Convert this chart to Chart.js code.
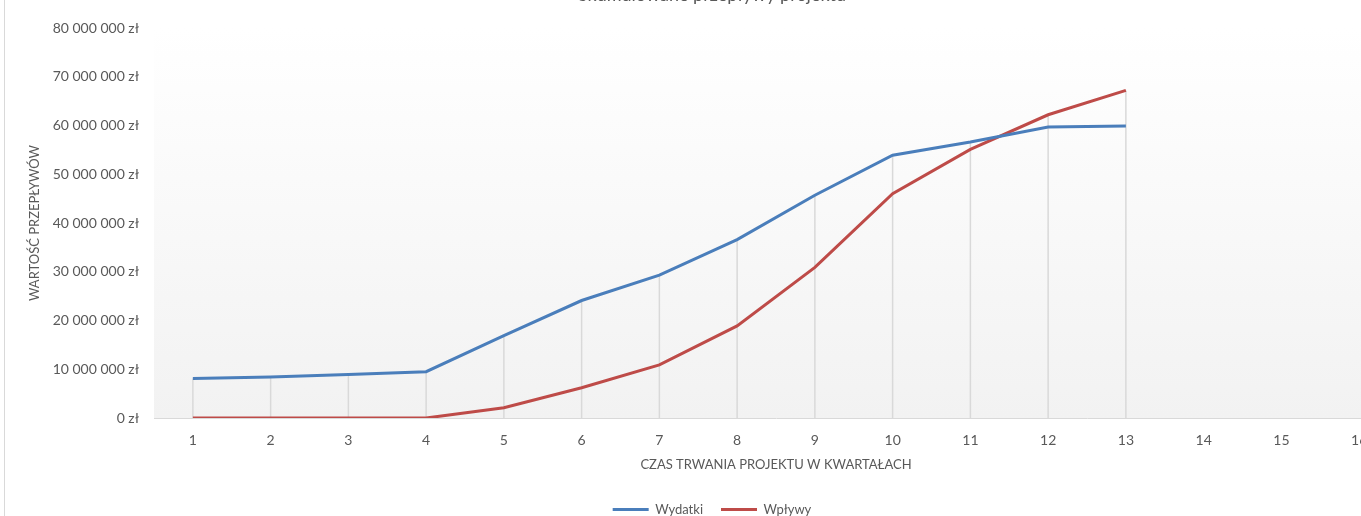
<!DOCTYPE html>
<html lang="pl">
<head>
<meta charset="utf-8">
<script src="https://cdn.jsdelivr.net/npm/chart.js@4.4.1/dist/chart.umd.min.js"></script>
<style>
  html, body { margin: 0; padding: 0; background: #fff; overflow: hidden; }
  body { width: 1361px; height: 516px; position: relative; }
  #wrap { position: absolute; left: 0; top: -20px; width: 1424px; height: 546px; }
  #frame { position: absolute; left: 4px; top: 0; width: 1px; height: 516px; background: #d9d9d9; }
</style>
</head>
<body>
<div id="wrap"><canvas id="chart" width="1424" height="546"></canvas></div>
<div id="frame"></div>
<script>
// ===============================
// DATA
// ===============================

const quarters = ["1", "2", "3", "4", "5", "6", "7", "8", "9", "10", "11", "12", "13", "14", "15", "16"];

const wydatki = [8100000, 8400000, 8900000, 9500000, 16900000, 24100000, 29300000,
                 36600000, 45700000, 53900000, 56600000, 59700000, 59900000];

const wplywy = [0, 0, 0, 0, 2100000, 6200000, 10900000,
                18900000, 30900000, 46000000, 55100000, 62200000, 67200000];

const yMin = 0;
const yMax = 80000000;
const yStep = 10000000;

const TEXT = "#595959";
const FONT = "Lato, 'Open Sans', sans-serif";

function formatZl(value) {
  const s = String(Math.round(value)).replace(/\B(?=(\d{3})+(?!\d))/g, " ");
  return s + " zł";
}

// plot area background (white -> light grey)
const plotBackground = {
  id: "plotBackground",
  beforeDraw(chart) {
    const { ctx, chartArea: a } = chart;
    const g = ctx.createLinearGradient(0, a.top, 0, a.bottom);
    g.addColorStop(0, "#ffffff");
    g.addColorStop(1, "#f2f2f2");
    ctx.save();
    ctx.fillStyle = g;
    ctx.fillRect(a.left, a.top, a.right - a.left, a.bottom - a.top);
    ctx.restore();
  }
};

// vertical drop lines from the higher series down to the axis
const dropLines = {
  id: "dropLines",
  beforeDatasetsDraw(chart) {
    const { ctx, scales: { x, y } } = chart;
    ctx.save();
    ctx.strokeStyle = "#d9d9d9";
    ctx.lineWidth = 1.5;
    for (let i = 0; i < wydatki.length; i++) {
      const top = Math.max(wydatki[i], wplywy[i]);
      const px = x.getPixelForValue(i);
      ctx.beginPath();
      ctx.moveTo(px, y.getPixelForValue(top));
      ctx.lineTo(px, y.getPixelForValue(0));
      ctx.stroke();
    }
    ctx.restore();
  }
};

new Chart(document.getElementById("chart"), {
  type: "line",
  data: {
    labels: quarters,
    datasets: [
      {
        label: "Wydatki",
        data: wydatki,
        borderColor: "#4a7ebb",
        backgroundColor: "#4a7ebb",
        borderWidth: 3,
        pointRadius: 0,
        tension: 0,
        fill: false
      },
      {
        label: "Wpływy",
        data: wplywy,
        borderColor: "#be4b48",
        backgroundColor: "#be4b48",
        borderWidth: 3,
        pointRadius: 0,
        tension: 0,
        fill: false
      }
    ]
  },
  options: {
    responsive: false,
    animation: false,
    devicePixelRatio: 1,
    layout: { padding: 0 },
    plugins: {
      title: {
        display: true,
        text: "Skumulowane przepływy projektu",
        color: TEXT,
        font: { family: FONT, size: 18, weight: "normal", lineHeight: 1 },
        padding: { top: 6, bottom: 24 }
      },
      legend: {
        position: "bottom",
        labels: {
          color: TEXT,
          font: { family: FONT, size: 13 },
          usePointStyle: true,
          pointStyle: "line",
          pointStyleWidth: 36,
          padding: 18
        }
      },
      tooltip: { enabled: false }
    },
    scales: {
      x: {
        type: "category",
        offset: true,
        grid: { display: false, drawTicks: false },
        border: { color: "#d9d9d9", width: 1 },
        ticks: {
          color: TEXT,
          font: { family: FONT, size: 14 },
          padding: 14,
          maxRotation: 0,
          autoSkip: false
        },
        title: {
          display: true,
          text: "CZAS TRWANIA PROJEKTU W KWARTAŁACH",
          color: TEXT,
          font: { family: FONT, size: 13 },
          padding: { top: 7, bottom: 12 }
        },
        afterFit(scale) { scale.height = 67; }
      },
      y: {
        min: yMin,
        max: yMax,
        grid: { display: false, drawTicks: false },
        border: { display: false },
        ticks: {
          stepSize: yStep,
          color: TEXT,
          font: { family: FONT, size: 14 },
          padding: 15,
          callback: (v) => formatZl(v)
        },
        title: {
          display: true,
          text: "WARTOŚĆ PRZEPŁYWÓW",
          color: TEXT,
          font: { family: FONT, size: 13 },
          padding: { top: 27, bottom: 0 }
        },
        afterFit(scale) { scale.width = 154; }
      },
      yRight: {
        position: "right",
        display: true,
        grid: { display: false, drawTicks: false },
        border: { display: false },
        ticks: { display: false },
        afterFit(scale) { scale.width = 26; }
      }
    }
  },
  plugins: [plotBackground, dropLines]
});
</script>
</body>
</html>
